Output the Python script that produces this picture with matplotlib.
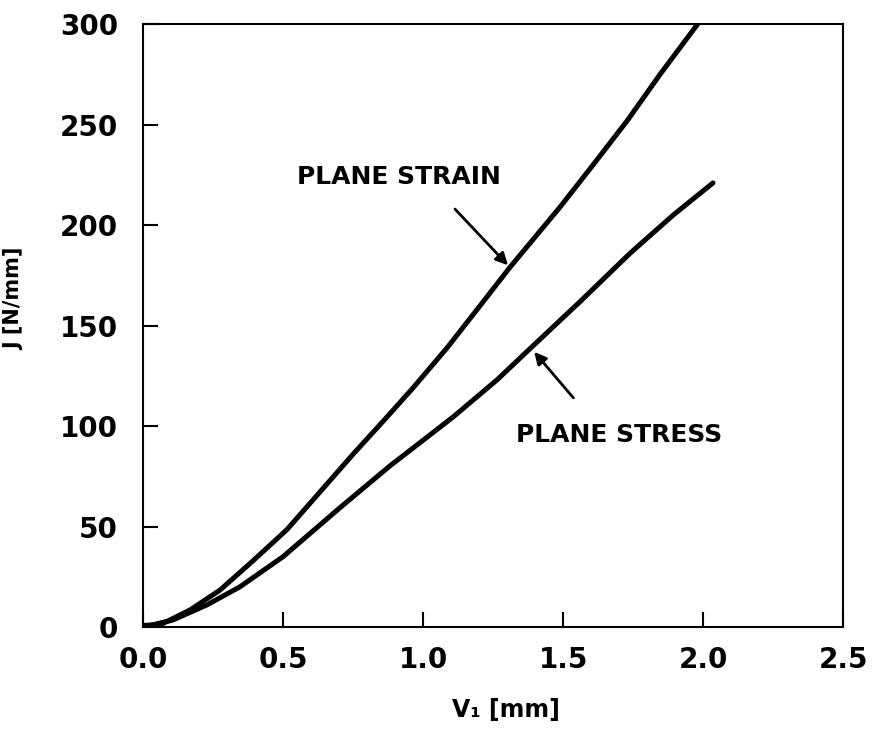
import numpy as np
import matplotlib
matplotlib.use('Agg')
import matplotlib.pyplot as plt

# J vs V1 curves
strain_v = [0.0, 0.06, 0.168, 0.275, 0.393, 0.514, 0.643, 0.75, 0.871, 0.964,
            1.086, 1.204, 1.31, 1.489, 1.607, 1.729, 1.846, 1.98]
strain_j = [0.0, 1.0, 8.5, 18.4, 33.0, 48.5, 69.0, 86.0, 104.5, 119.0,
            139.0, 160.0, 179.0, 209.0, 230.0, 252.0, 275.0, 300.0]

stress_v = [0.0, 0.107, 0.228, 0.346, 0.5, 0.70, 0.88, 1.107, 1.264, 1.393,
            1.561, 1.739, 1.893, 2.035]
stress_j = [0.0, 3.5, 11.0, 20.0, 35.0, 59.0, 80.0, 104.5, 123.0, 140.0,
            162.0, 186.0, 205.0, 221.0]

xticks = [0.0, 0.5, 1.0, 1.5, 2.0, 2.5]
xticklabels = ['0.0', '0.5', '1.0', '1.5', '2.0', '2.5']
yticks = [0, 50, 100, 150, 200, 250, 300]

plt.rcParams['font.family'] = ['DejaVu Sans']
plt.rcParams['font.weight'] = 'bold'

fig = plt.figure(figsize=(8.72, 7.32), dpi=100)
ax = fig.add_axes([0.164, 0.1434, 0.803, 0.8236])

for v, j in [(strain_v, strain_j), (stress_v, stress_j)]:
    ax.plot(v, j, color='black', lw=3.6, solid_capstyle='round',
            solid_joinstyle='round')
# heavy dot where both curves leave the origin
ax.plot([0.0, 0.06], [0.0, 0.3], color='black', lw=6, solid_capstyle='round')

ax.set_xlim(0, 2.5)
ax.set_ylim(0, 300)
ax.set_xticks(xticks)
ax.set_xticklabels(xticklabels)
ax.set_yticks(yticks)
ax.tick_params(direction='in', length=11, width=1.5, labelsize=20)
ax.tick_params(axis='x', pad=14)
ax.tick_params(axis='y', pad=18)
for s in ax.spines.values():
    s.set_linewidth(1.5)

ax.set_xlabel('V\u2081 [mm]', fontsize=17, fontweight='bold')
ax.set_ylabel('J [N/mm]', fontsize=15, fontweight='bold')
ax.xaxis.set_label_coords(0.519, -0.118)
ax.yaxis.set_label_coords(-0.169, 0.544)

ax.text(0.55, 224, 'PLANE STRAIN', fontsize=18, fontweight='bold', va='center', ha='left')
ax.text(1.33, 95.5, 'PLANE STRESS', fontsize=18, fontweight='bold', va='center', ha='left')

arrow = dict(arrowstyle='-|>', color='black', lw=2, mutation_scale=18)
ax.annotate('', xy=(1.31, 179), xytext=(1.107, 209), arrowprops=arrow)
ax.annotate('', xy=(1.39, 138), xytext=(1.543, 113), arrowprops=arrow)

fig.savefig('out.png', dpi=100)
